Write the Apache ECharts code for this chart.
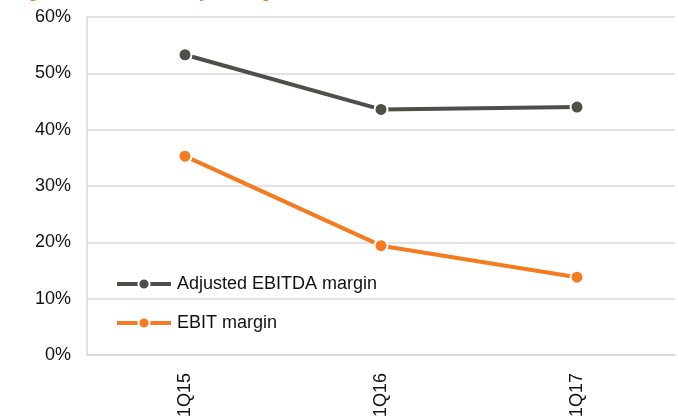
<!DOCTYPE html>
<html>
<head>
<meta charset="utf-8">
<script src="https://cdn.jsdelivr.net/npm/echarts@6/dist/echarts.min.js"></script>
<style>html,body{margin:0;padding:0;background:#fff;}#c{width:678px;height:420px;}</style>
</head>
<body>
<div id="c"></div>
<script>
var titleText = 'Margins have been steadily eroding';
var categories = ['1Q15', '1Q16', '1Q17'];
var ebitdaMargin = [53.3, 43.6, 44.0];
var ebitMargin = [35.3, 19.4, 13.8];
var yTicks = { min: 0, max: 60, interval: 10 };

var GRAY = '#4f4f47', ORANGE = '#f47b20';
var FONT = 'Liberation Sans, Arial';
var chart = echarts.init(document.getElementById('c'));
chart.setOption({
  animation: false,
  title: {
    text: titleText, left: 0, top: -14, padding: 0,
    textStyle: { color: ORANGE, fontFamily: FONT, fontWeight: 'bold', fontSize: 16, lineHeight: 16 }
  },
  grid: { left: 87, right: 3, top: 17, bottom: 63 },
  legend: {
    orient: 'vertical', left: 115, top: 275, itemGap: 21, padding: 0,
    itemWidth: 54, itemHeight: 14,
    lineStyle: { width: 4 },
    textStyle: { color: '#111', fontFamily: FONT, fontSize: 18, padding: [0, 0, 0, 1] },
    data: ['Adjusted EBITDA margin', 'EBIT margin']
  },
  xAxis: {
    type: 'category', data: categories, boundaryGap: true,
    axisLine: { lineStyle: { color: '#d9d9d9', width: 1.5 } },
    axisTick: { show: false },
    axisLabel: { rotate: 90, margin: 18, color: '#111', fontFamily: FONT, fontSize: 18 }
  },
  yAxis: {
    type: 'value', min: yTicks.min, max: yTicks.max, interval: yTicks.interval,
    axisLine: { show: true, lineStyle: { color: '#d9d9d9', width: 1.5 } },
    axisTick: { show: false },
    splitLine: { lineStyle: { color: '#d9d9d9', width: 1.5 } },
    axisLabel: { formatter: '{value}%', margin: 16, color: '#111', fontFamily: FONT, fontSize: 18 }
  },
  series: [
    {
      name: 'Adjusted EBITDA margin', type: 'line', data: ebitdaMargin,
      symbol: 'circle', symbolSize: 13,
      lineStyle: { color: GRAY, width: 4 },
      itemStyle: { color: GRAY, borderColor: '#fff', borderWidth: 2 }
    },
    {
      name: 'EBIT margin', type: 'line', data: ebitMargin,
      symbol: 'circle', symbolSize: 13,
      lineStyle: { color: ORANGE, width: 4 },
      itemStyle: { color: ORANGE, borderColor: '#fff', borderWidth: 2 }
    }
  ]
});
</script>
</body>
</html>
